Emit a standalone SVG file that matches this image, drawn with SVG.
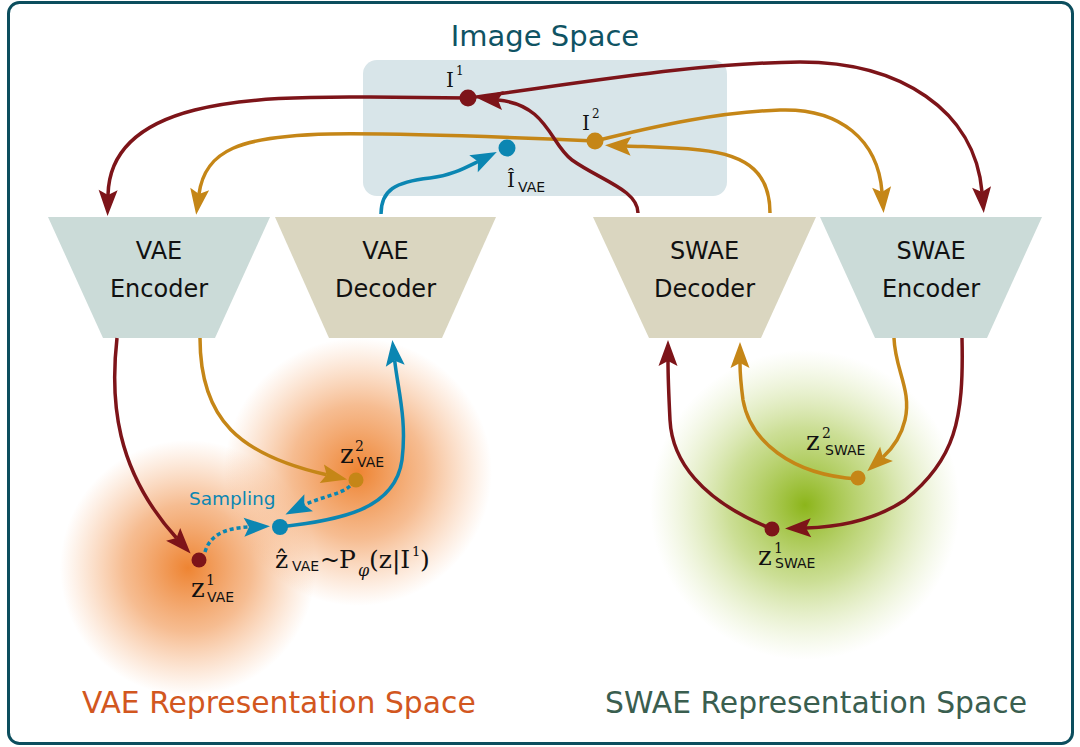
<svg xmlns="http://www.w3.org/2000/svg" width="1080" height="747" viewBox="0 0 1080 747">
  <defs>
    <style>
      .sans { font-family: "DejaVu Sans", Verdana, sans-serif; }
      .math { font-family: "DejaVu Serif", "Liberation Serif", serif; fill: #111; }
      .sub { font-family: "DejaVu Sans", Verdana, sans-serif; font-size: 14px; fill: #111; }
      .box-label { font-family: "DejaVu Sans", Verdana, sans-serif; font-size: 24px; fill: #111; text-anchor: middle; }
      .link { fill: none; stroke-width: 3.5; }
      .red { stroke: #7d1419; }
      .orange { stroke: #c58617; }
      .blue { stroke: #0b86b2; }
      .dotted { stroke-dasharray: 4 3; }
    </style>
    <radialGradient id="glowOrange" cx="0.5" cy="0.5" r="0.5">
      <stop offset="0" stop-color="#ee8432" stop-opacity="1"/>
      <stop offset="0.5" stop-color="#f09048" stop-opacity="0.6"/>
      <stop offset="1" stop-color="#f6a060" stop-opacity="0"/>
    </radialGradient>
    <radialGradient id="glowGreen" cx="0.5" cy="0.5" r="0.5">
      <stop offset="0" stop-color="#8cb51a" stop-opacity="1"/>
      <stop offset="0.5" stop-color="#a2c440" stop-opacity="0.55"/>
      <stop offset="1" stop-color="#c4da80" stop-opacity="0"/>
    </radialGradient>
    <marker id="arrRed" markerUnits="userSpaceOnUse" markerWidth="30" markerHeight="24" viewBox="-6 -12 30 24" refX="0" refY="0" orient="auto">
      <path d="M-5,-9.5 L21,0 L-5,9.5 L0,0 Z" fill="#7d1419"/>
    </marker>
    <marker id="arrOrange" markerUnits="userSpaceOnUse" markerWidth="30" markerHeight="24" viewBox="-6 -12 30 24" refX="0" refY="0" orient="auto">
      <path d="M-5,-9.5 L21,0 L-5,9.5 L0,0 Z" fill="#c58617"/>
    </marker>
    <marker id="arrBlue" markerUnits="userSpaceOnUse" markerWidth="30" markerHeight="24" viewBox="-6 -12 30 24" refX="0" refY="0" orient="auto">
      <path d="M-5,-9.5 L21,0 L-5,9.5 L0,0 Z" fill="#0b86b2"/>
    </marker>
  </defs>

  <rect x="0" y="0" width="1080" height="747" fill="#ffffff"/>

  <!-- latent space glows -->
  <g id="vae-space">
    <circle cx="188" cy="568" r="128" fill="url(#glowOrange)"/>
    <circle cx="358" cy="472" r="134" fill="url(#glowOrange)"/>
  </g>
  <g id="swae-space">
    <circle cx="805" cy="505" r="155" fill="url(#glowGreen)"/>
  </g>

  <!-- image space panel -->
  <g id="image-space">
    <rect x="363" y="60" width="364" height="136" rx="14" fill="#d8e5e9"/>
    <text class="sans" x="545" y="46" font-size="29" fill="#0f5363" text-anchor="middle">Image Space</text>
  </g>

  <!-- networks -->
  <g id="vae-encoder">
    <polygon points="48,217 270,217 215,338 103,338" fill="#cbdbd8"/>
    <text class="box-label" x="159" y="259">VAE</text>
    <text class="box-label" x="159" y="297">Encoder</text>
  </g>
  <g id="vae-decoder">
    <polygon points="275,217 496,217 442,338 329,338" fill="#dad6c0"/>
    <text class="box-label" x="385.5" y="259">VAE</text>
    <text class="box-label" x="385.5" y="297">Decoder</text>
  </g>
  <g id="swae-decoder">
    <polygon points="593,217 816,217 761,338 649,338" fill="#dad6c0"/>
    <text class="box-label" x="704.5" y="259">SWAE</text>
    <text class="box-label" x="704.5" y="297">Decoder</text>
  </g>
  <g id="swae-encoder">
    <polygon points="820,217 1042,217 987,338 875,338" fill="#cbdbd8"/>
    <text class="box-label" x="931" y="259">SWAE</text>
    <text class="box-label" x="931" y="297">Encoder</text>
  </g>

  <!-- connectors -->
  <g id="connectors">
    <!-- image space to encoders -->
    <path class="link orange" marker-end="url(#arrOrange)" d="M595,141 C480,136 400,133 330,134 C240,136 205,150 199,194"/>
    <path class="link orange" marker-end="url(#arrOrange)" d="M595,141 C660,125 720,112 780,110 C840,108 878,140 882,192"/>
    <path class="link red" marker-end="url(#arrRed)" d="M468,98 L370,97 C250,96 110,100 108,195"/>
    <path class="link red" marker-end="url(#arrRed)" d="M468,98 C600,80 700,63 800,62 C900,62 975,110 982,192"/>
    <!-- decoders back to image space -->
    <path class="link blue" marker-end="url(#arrBlue)" d="M381,214 C381,190 395,182 430,178 C450,176 465,168 478,161.5"/>
    <path class="link orange" marker-end="url(#arrOrange)" d="M770,213 C770,175 750,155 700,150 C670,147 650,147 626,146"/>
    <path class="link red" marker-end="url(#arrRed)" d="M638,213 C638,190 600,180 572,160 C550,144 548,105 498,100"/>

    <!-- VAE latent space -->
    <path class="link red" marker-end="url(#arrRed)" d="M117,338 C110,400 115,470 176.5,538"/>
    <path class="link orange" marker-end="url(#arrOrange)" d="M200,338 C200,420 240,455 326.7,474.8"/>
    <path class="link blue" marker-end="url(#arrBlue)" d="M280,527 C340,520 395,510 402,460 C407,420 398,390 394.7,360.8"/>
    <path class="link blue dotted" marker-end="url(#arrBlue)" d="M350,486 C340,495 320,497 304.2,505"/>
    <path class="link blue dotted" marker-end="url(#arrBlue)" d="M205,552 C210,535 225,528 249,527"/>

    <!-- SWAE latent space -->
    <path class="link red" marker-end="url(#arrRed)" d="M772,529 C700,500 672,460 670,420 C669,400 668,380 668,361"/>
    <path class="link orange" marker-end="url(#arrOrange)" d="M858,479 C790,475 750,440 743,400 C741,385 740,375 740,363"/>
    <path class="link orange" marker-end="url(#arrOrange)" d="M894,338 C895,370 912,390 905,420 C901,437 893,448 882.8,457.2"/>
    <path class="link red" marker-end="url(#arrRed)" d="M962,338 C964,420 955,460 905,500 C875,520 840,527 806,528"/>
  </g>

  <!-- points -->
  <g id="node-i1">
    <circle cx="468" cy="98" r="8.5" fill="#7d1419"/>
    <text class="math" x="446" y="87" font-size="20">I</text>
    <text class="math" x="456" y="75" font-size="12">1</text>
  </g>
  <g id="node-i2">
    <circle cx="595" cy="141" r="8.5" fill="#c58617"/>
    <text class="math" x="582" y="130" font-size="20">I</text>
    <text class="math" x="592" y="118" font-size="12">2</text>
  </g>
  <g id="node-ihat">
    <circle cx="507" cy="148" r="8.5" fill="#0b86b2"/>
    <text class="math" x="507" y="187" font-size="20">Î</text>
    <text class="sub" x="518" y="192">VAE</text>
  </g>

  <g id="node-z1-vae">
    <circle cx="199" cy="560" r="7.5" fill="#7d1419"/>
    <text class="math" x="191" y="597" font-size="26">z</text>
    <text class="math" x="206" y="585" font-size="14">1</text>
    <text class="sub" x="207" y="602">VAE</text>
  </g>
  <g id="node-z2-vae">
    <circle cx="356" cy="480" r="7.5" fill="#c58617"/>
    <text class="math" x="340" y="463" font-size="26">z</text>
    <text class="math" x="355" y="451" font-size="14">2</text>
    <text class="sub" x="357" y="467">VAE</text>
  </g>
  <g id="node-zhat-vae">
    <circle cx="280" cy="527" r="8" fill="#0b86b2"/>
    <text class="sans" x="189" y="505" font-size="18.5" fill="#0b86b2">Sampling</text>
    <text class="math" x="275" y="568" font-size="25">ẑ</text>
    <text class="sub" x="292" y="571">VAE</text>
    <text class="math" x="320" y="568" font-size="24">~</text>
    <text class="math" x="339" y="568" font-size="25">P</text>
    <text class="math" x="358" y="576" font-size="16" font-style="italic">φ</text>
    <text class="math" x="369" y="568" font-size="25">(z|I</text>
    <text class="math" x="412" y="556" font-size="13">1</text>
    <text class="math" x="420" y="568" font-size="25">)</text>
  </g>

  <g id="node-z1-swae">
    <circle cx="772" cy="529" r="7.5" fill="#7d1419"/>
    <text class="math" x="758" y="565" font-size="26">z</text>
    <text class="math" x="774" y="553" font-size="14">1</text>
    <text class="sub" x="775" y="568">SWAE</text>
  </g>
  <g id="node-z2-swae">
    <circle cx="858" cy="478" r="7.5" fill="#c58617"/>
    <text class="math" x="806" y="450" font-size="26">z</text>
    <text class="math" x="822" y="438" font-size="14">2</text>
    <text class="sub" x="825" y="455">SWAE</text>
  </g>

  <!-- space titles -->
  <text class="sans" x="82" y="713" font-size="29.8" fill="#d2571f">VAE Representation Space</text>
  <text class="sans" x="605" y="713" font-size="29.8" fill="#3a5e4f">SWAE Representation Space</text>

  <!-- frame -->
  <rect x="8.5" y="2.5" width="1064" height="741" rx="11" fill="none" stroke="#0c4e5e" stroke-width="3"/>
</svg>
